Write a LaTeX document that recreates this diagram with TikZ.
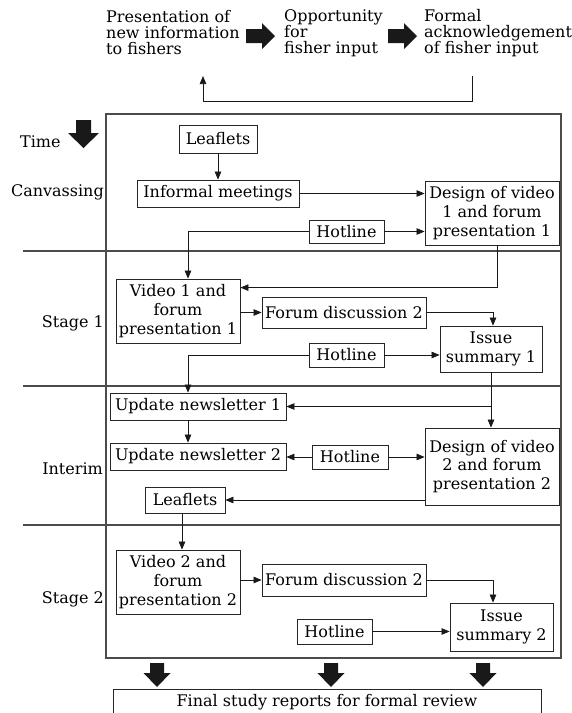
\documentclass[tikz,border=0pt]{standalone}
\usepackage{fontspec}
\setmainfont{DejaVu Serif}
\usetikzlibrary{arrows.meta}
\begin{document}
\begin{tikzpicture}[x=1pt,y=-1pt,
  txt/.style={font=\fontsize{16}{16}\selectfont, inner sep=0pt},
  box/.style={draw=black!85, line width=0.8pt, inner sep=0pt, align=center,
    font=\fontsize{16}{18.7}\selectfont, fill=white},
  conn/.style={line width=0.7pt, draw=black!90, -{Triangle[length=8pt,width=6.5pt]}},
  frame/.style={draw=black!70, line width=1.1pt},
  blk/.style={fill=black!90, draw=none}
]
\useasboundingbox (0,0) rectangle (572,713);

% top legend
\node[txt, anchor=west, align=left] (ta) at (106,33) {Presentation of\\new information\\to fishers};
\node[txt, anchor=west, align=left] (tb) at (284,33) {Opportunity\\for\\fisher input};
\node[txt, anchor=west, align=left] (tc) at (424,33) {Formal\\acknowledgement\\of fisher input};
\fill[blk] (246,29) -- (262,29) -- (262,23) -- (275,36) -- (262,49) -- (262,43) -- (246,43) -- cycle;
\fill[blk] (388,29) -- (404,29) -- (404,23) -- (417,36) -- (404,49) -- (404,43) -- (388,43) -- cycle;
\coordinate (fbR) at (472,76);
\coordinate (fbL) at (203,76);
\draw[conn] (fbR) -- (472,101) -- (203,101) -- (fbL);

% time
\node[txt, anchor=west] (time) at (20,142) {Time};
\fill[blk] (76,120) -- (91,120) -- (91,133) -- (99,133) -- (83.5,148) -- (68,133) -- (76,133) -- cycle;

% frame and dividers
\draw[frame] (106,114) rectangle (561,658);
\draw[frame] (23,251) -- (561,251);
\draw[frame] (23,386) -- (561,386);
\draw[frame] (23,525) -- (561,525);

% stage labels
\node[txt, anchor=east] (lc) at (104,192) {Canvassing};
\node[txt, anchor=east] (l1) at (104,323) {Stage 1};
\node[txt, anchor=east] (li) at (103,469) {Interim};
\node[txt, anchor=east] (l2) at (104,599) {Stage 2};

% canvassing
\node[box, minimum width=78pt, minimum height=28pt] (leafA) at (218,139) {Leaflets};
\node[box, minimum width=162pt, minimum height=27pt] (infA) at (218,193.5) {Informal meetings};
\node[box, minimum width=134pt, minimum height=64pt] (desA) at (492,213) {Design of video\\1 and forum\\presentation 1};
\node[box, minimum width=75pt, minimum height=23pt] (hotA) at (346.5,231.5) {Hotline};

% stage 1
\node[box, minimum width=124pt, minimum height=64pt] (vidA) at (178,311) {Video 1 and\\forum\\presentation 1};
\node[box, minimum width=164pt, minimum height=31pt] (fdA) at (344,312.5) {Forum discussion 2};
\node[box, minimum width=102pt, minimum height=46pt] (isA) at (491,349) {Issue\\summary 1};
\node[box, minimum width=75pt, minimum height=24pt] (hotB) at (346.5,355) {Hotline};

% interim
\node[box, minimum width=176pt, minimum height=27pt] (unA) at (198,406.5) {Update newsletter 1};
\node[box, minimum width=176pt, minimum height=27pt] (unB) at (198,456.5) {Update newsletter 2};
\node[box, minimum width=76pt, minimum height=24pt] (hotC) at (350,457) {Hotline};
\node[box, minimum width=134pt, minimum height=77pt] (desB) at (492,466.5) {Design of video\\2 and forum\\presentation 2};
\node[box, minimum width=80pt, minimum height=26pt] (leB) at (185,500) {Leaflets};

% stage 2
\node[box, minimum width=124pt, minimum height=64pt] (vidB) at (178,582) {Video 2 and\\forum\\presentation 2};
\node[box, minimum width=164pt, minimum height=32pt] (fdB) at (344,580) {Forum discussion 2};
\node[box, minimum width=103pt, minimum height=48pt] (isB) at (501.5,627) {Issue\\summary 2};
\node[box, minimum width=75pt, minimum height=25pt] (hotD) at (334.5,631.5) {Hotline};

% final
\node[box, minimum width=428pt, minimum height=26pt] (fin) at (327,702) {Final study reports for formal review};
\foreach \cx in {157,331,483}
  \fill[blk] (\cx-7,663) -- (\cx+7,663) -- (\cx+7,673) -- (\cx+13.5,673) -- (\cx,687) -- (\cx-13.5,673) -- (\cx-7,673) -- cycle;

% connectors canvassing
\draw[conn] (leafA) -- (infA);
\draw[conn] (infA.east) -- (infA.east -| desA.west);
\draw[conn] (hotA.east) -- (hotA.east -| desA.west);
\draw[conn] (hotA.west) -| ([xshift=10pt]vidA.north);
\draw[conn] ([xshift=5pt]desA.south) |- ([yshift=-9pt]vidA.north east);

% stage 1
\draw[conn] (vidA.east |- fdA.west) -- (fdA.west);
\draw[conn] (fdA.east) -| ([xshift=2pt]isA.north);
\draw[conn] (hotB.east) -- (hotB.east -| isA.west);
\draw[conn] (hotB.west) -| ([xshift=-10pt]unA.north);

% interim
\draw[conn] (isA.south) -- (isA.south |- desB.north);
\draw[conn] (isA.south |- unA.east) -- (unA.east);
\draw[conn] ([xshift=-10pt]unA.south) -- ([xshift=-10pt]unB.north);
\draw[conn] (hotC.west) -- (hotC.west -| unB.east);
\draw[conn] (hotC.east) -- (hotC.east -| desB.west);
\draw[conn] (desB.west |- leB.east) -- (leB.east);
\draw[conn] ([xshift=-3pt]leB.south) -- ([xshift=-3pt]leB.south |- vidB.north);

% stage 2
\draw[conn] (vidB.east |- fdB.west) -- (fdB.west);
\draw[conn] (fdB.east) -| ([xshift=-8.5pt]isB.north);
\draw[conn] (hotD.east) -- (hotD.east -| isB.west);
\end{tikzpicture}
\end{document}
